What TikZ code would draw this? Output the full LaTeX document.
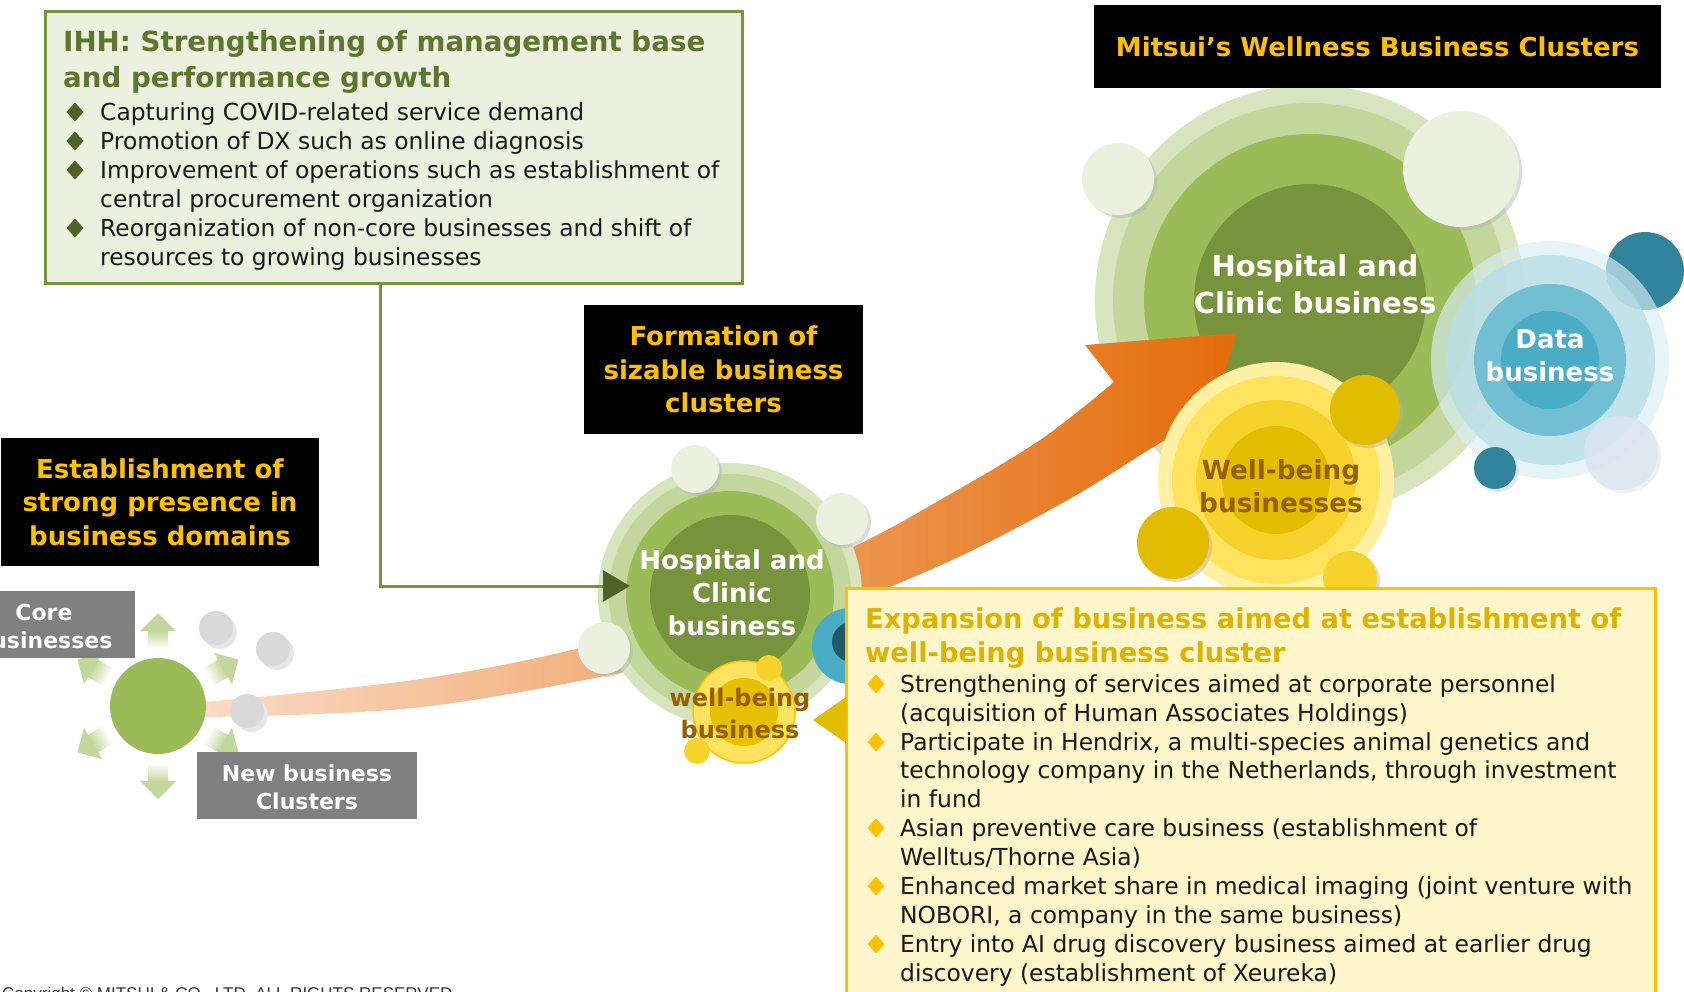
\documentclass[tikz,border=0pt]{standalone}
\usepackage{fontspec}
\setmainfont{DejaVu Sans}
\newfontfamily\libsans{Liberation Sans}
\usetikzlibrary{arrows.meta}
\definecolor{greenA}{HTML}{D7E4BD}
\definecolor{greenB}{HTML}{C3D69B}
\definecolor{greenC}{HTML}{9BBB59}
\definecolor{greenD}{HTML}{77933C}
\definecolor{greenL}{HTML}{EBF1DE}
\definecolor{greenDark}{HTML}{4F6228}
\definecolor{ihhTitle}{HTML}{5F7530}
\definecolor{gold}{HTML}{FFC000}
\definecolor{yTitle}{HTML}{DEB200}
\definecolor{yFill}{HTML}{FFF6CC}
\definecolor{yA}{HTML}{FFF0A3}
\definecolor{yB}{HTML}{FFE35E}
\definecolor{yC}{HTML}{F6D32C}
\definecolor{yD}{HTML}{E2BC00}
\definecolor{bA}{HTML}{DAEEF3}
\definecolor{bB}{HTML}{B7DEE8}
\definecolor{bC}{HTML}{72BED3}
\definecolor{bD}{HTML}{4BACC6}
\definecolor{teal}{HTML}{31849B}
\definecolor{tealDark}{HTML}{215968}
\definecolor{lav}{HTML}{DCE6F2}
\definecolor{peach}{HTML}{FADBC6}
\definecolor{orangeD}{HTML}{E36C09}
\definecolor{brownT}{HTML}{965F00}
\definecolor{grayBox}{HTML}{808080}
\definecolor{grayC}{HTML}{D9D9D9}
\definecolor{grayS}{HTML}{E6E6E6}
\definecolor{bodyT}{HTML}{1A1A1A}
\newcommand\lcirc[4]{%
  \fill[black!30,opacity=.45] (#1+3,#2+3) circle[radius=#3 pt];
  \fill[#4] (#1,#2) circle[radius=#3 pt];}
\newcommand\dia[3]{\fill[#3] (#1,#2-9.5) -- (#1+8.5,#2) -- (#1,#2+9.5) -- (#1-8.5,#2) -- cycle;}
\tikzset{
  blackbox/.style={fill=black, text=gold, font=\fontsize{26}{33.5}\selectfont\bfseries, align=center, inner sep=0},
  graybox/.style={fill=grayBox, inner sep=0},
  graytext/.style={text=white, font=\fontsize{22}{28}\selectfont\bfseries, align=center, inner sep=0},
  body/.style={anchor=base west, inner sep=0, text=bodyT, font=\fontsize{23.4}{29}\selectfont},
  ihhtitle/.style={anchor=base west, inner sep=0, text=ihhTitle, font=\fontsize{27.7}{36}\selectfont\bfseries},
  ytitle/.style={anchor=base west, inner sep=0, text=yTitle, font=\fontsize{27.3}{36}\selectfont\bfseries},
  clustertext/.style={align=center, inner sep=0, font=\bfseries},
}
\begin{document}
\begin{tikzpicture}[x=1pt,y=-1pt]
\useasboundingbox (0,0) rectangle (1684,991);

% ---- top green cluster
\fill[greenA] (1310,300) circle[radius=215pt];
\fill[greenB] (1310,300) circle[radius=197pt];
\fill[greenC] (1310,300) circle[radius=166pt];
\fill[greenD] (1310,300) circle[radius=116pt];

% ---- growth band / arrow
\shade[left color=peach, right color=orangeD]
  (205,702) -- plot[smooth, tension=0.6] coordinates {(205,702) (413,680) (580,648) (720,605) (853,547) (940,500) (1040,440) (1114,382)}
  -- (1085,345) -- (1237,333) -- (1210,418)
  -- plot[smooth, tension=0.6] coordinates {(1205,420) (1160,443) (1073,497) (973,550) (890,587) (760,640) (620,673) (413,708) (205,717)} -- cycle;

% ---- left group
\foreach \a in {30,90,150,210,270,330}{
  \begin{scope}[transform canvas={rotate around={\a:(158,706)}}]
    \shade[left color=white, right color=greenB] (215,696) rectangle (234,716);
    \fill[greenB] (233,688) -- (251,706) -- (233,724) -- cycle;
  \end{scope}
}
\node[circle, fill=greenC, minimum size=96pt, inner sep=0] (core) at (158,706) {};
\foreach \x/\y in {216/628, 273/649, 247/711}{
  \fill[grayS] (\x+4,\y+4) circle[radius=17pt];
  \fill[grayC] (\x,\y) circle[radius=17pt];
}

% ---- middle cluster
\fill[greenA] (730,595) circle[radius=132pt];
\fill[greenB] (730,595) circle[radius=121pt];
\fill[greenC] (730,595) circle[radius=104pt];
\node[circle, fill=greenD, minimum size=160pt, inner sep=0] (midc) at (730,595) {};
\fill[bD] (850,646) circle[radius=38pt];
\fill[tealDark] (852,642) circle[radius=20pt];
\fill[yB, draw=gold, line width=1.5pt] (744,712) circle[radius=51pt];
\fill[yD!85!yC] (744,712) circle[radius=34pt];
\fill[yC] (769,668) circle[radius=13pt];
\fill[yC] (697,751) circle[radius=13pt];
\lcirc{695}{469}{24}{greenL}
\lcirc{842}{519}{26}{greenL}
\lcirc{604}{648}{26}{greenL}
\node[clustertext, text=white, font=\fontsize{26}{33}\selectfont\bfseries] (midtxt) at (732,593) {Hospital and\\Clinic\\business};
\node[clustertext, text=brownT, font=\fontsize{24}{32}\selectfont\bfseries] (midwb) at (740,714) {well-being\\business};

% ---- top yellow cluster
\fill[yA] (1276,480) circle[radius=118pt];
\fill[yB] (1276,480) circle[radius=104pt];
\fill[yC] (1276,480) circle[radius=80pt];
\node[circle, fill=yD, minimum size=108pt, inner sep=0] (wbc) at (1276,480) {};
\lcirc{1365}{410}{35}{yD}
\lcirc{1173}{543}{36}{yD}
\lcirc{1350}{578}{27}{yC}
\node[clustertext, text=brownT, font=\fontsize{26.3}{33}\selectfont\bfseries] (wbtxt) at (1281,486) {Well-being\\businesses};

% ---- blue cluster
\fill[teal] (1645,271) circle[radius=39pt];
\fill[bA, opacity=.65] (1550,360) circle[radius=119pt];
\fill[bB, opacity=.75] (1550,360) circle[radius=105pt];
\fill[bC] (1550,360) circle[radius=76pt];
\node[circle, fill=bD, minimum size=98pt, inner sep=0] (datac) at (1550,360) {};
\fill[black!25, opacity=.4] (1498,471) circle[radius=21pt];
\fill[teal] (1495,468) circle[radius=21pt];
\fill[black!15, opacity=.4] (1624,456) circle[radius=37pt];
\fill[lav, opacity=.8] (1621,453) circle[radius=37pt];
\node[clustertext, text=white, font=\fontsize{26}{33}\selectfont\bfseries] (datatxt) at (1550,356) {Data\\business};

% ---- top green light circles and text
\lcirc{1118}{179}{36}{greenL}
\lcirc{1461}{169}{58}{greenL}
\node[clustertext, text=white, font=\fontsize{29}{37}\selectfont\bfseries] (hosptxt) at (1315,284) {Hospital and\\Clinic business};

% ---- black title boxes
\node[blackbox, minimum width=318pt, minimum height=128pt] (est) at (160,502) {Establishment of\\strong presence in\\business domains};
\node[blackbox, minimum width=279pt, minimum height=129pt] (form) at (723.5,369.5) {Formation of\\sizable business\\clusters};
\node[blackbox, minimum width=567pt, minimum height=83pt] (mitsui) at (1377.5,46.5) {Mitsui’s Wellness Business Clusters};

% ---- gray boxes
\node[graybox, minimum width=135pt, minimum height=67pt] (corebox) at (67.5,624.5) {};
\node[graytext] (coretxt) at (44,626) {Core\\businesses};
\node[graybox, minimum width=220pt, minimum height=67pt] (newbox) at (307,785.5) {};
\node[graytext] (newtxt) at (307,787) {New business\\Clusters};

% ---- IHH box
\node[draw=greenD, fill=greenL, line width=3pt, minimum width=697pt, minimum height=272pt, inner sep=0, anchor=north west] (ihh) at (44,10) {};
\coordinate (ihhout) at (380,282);
\coordinate (midin) at (630,586);
\draw[greenD, line width=3pt, -{Triangle[length=27pt,width=31pt,color=greenDark,fill=greenDark]}] (ihhout) |- (midin);
\node[ihhtitle] (ihh1) at (63,51) {IHH: Strengthening of management base};
\node[ihhtitle] (ihh2) at (63,87) {and performance growth};
\foreach \yy in {112,141,170,228}{\dia{75}{\yy}{greenDark}}
\foreach \yy/\tt in {120/{Capturing COVID-related service demand},
                     149/{Promotion of DX such as online diagnosis},
                     178/{Improvement of operations such as establishment of},
                     207/{central procurement organization},
                     236/{Reorganization of non-core businesses and shift of},
                     265/{resources to growing businesses}}{
  \node[body] at (100,\yy) {\tt};
}

% ---- yellow box
\node[draw=gold, fill=yFill, line width=3pt, minimum width=809pt, minimum height=420pt, inner sep=0, anchor=north west] (ybox) at (845,587) {};
\fill[yD] (813,720) -- (846,697) -- (846,743) -- cycle;
\node[ytitle] (y1) at (865,628) {Expansion of business aimed at establishment of};
\node[ytitle] (y2) at (865,662) {well-being business cluster};
\foreach \yy in {684,742,828,886,944}{\dia{876}{\yy}{gold}}
\foreach \yy/\tt in {692/{Strengthening of services aimed at corporate personnel},
                     721/{(acquisition of Human Associates Holdings)},
                     750/{Participate in Hendrix, a multi-species animal genetics and},
                     778/{technology company in the Netherlands, through investment},
                     807/{in fund},
                     836/{Asian preventive care business (establishment of},
                     865/{Welltus/Thorne Asia)},
                     894/{Enhanced market share in medical imaging (joint venture with},
                     923/{NOBORI, a company in the same business)},
                     952/{Entry into AI drug discovery business aimed at earlier drug},
                     981/{discovery (establishment of Xeureka)}}{
  \node[body] at (900,\yy) {\tt};
}

% ---- copyright
\node[anchor=base west, inner sep=0, text=black!80, font=\libsans\fontsize{17}{20}\selectfont] (copy) at (2,999) {Copyright © MITSUI \& CO., LTD. ALL RIGHTS RESERVED.};
\end{tikzpicture}
\end{document}
